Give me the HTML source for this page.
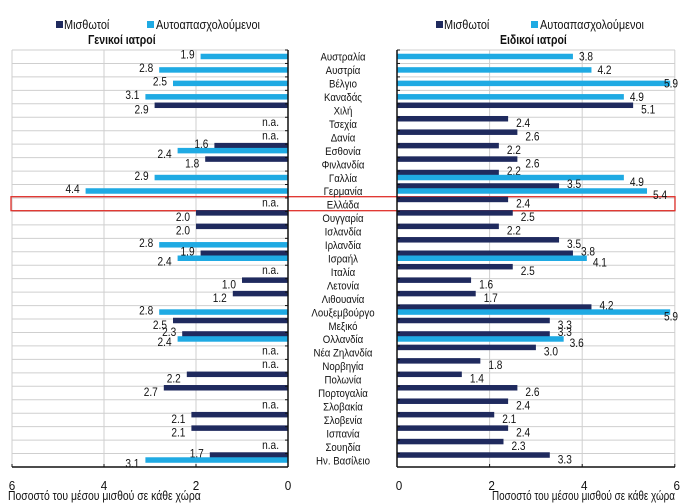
<!DOCTYPE html>
<html><head><meta charset="utf-8">
<style>
html,body{margin:0;padding:0;background:#fff;}
svg{display:block;font-family:"Liberation Sans",sans-serif;}
</style></head>
<body>
<svg id="chart" width="692" height="504" viewBox="0 0 692 504" xmlns="http://www.w3.org/2000/svg"></svg>
<script>
const countries = ["Αυστραλία","Αυστρία","Βέλγιο","Καναδάς","Χιλή","Τσεχία","Δανία","Εσθονία","Φινλανδία","Γαλλία","Γερμανία","Ελλάδα","Ουγγαρία","Ισλανδία","Ιρλανδία","Ισραήλ","Ιταλία","Λετονία","Λιθουανία","Λουξεμβούργο","Μεξικό","Ολλανδία","Νέα Ζηλανδία","Νορβηγία","Πολωνία","Πορτογαλία","Σλοβακία","Σλοβενία","Ισπανία","Σουηδία","Ην. Βασίλειο"];
const gpEmployed = [null,null,null,null,2.9,null,null,1.6,1.8,null,null,null,2.0,2.0,null,1.9,null,1.0,1.2,null,2.5,2.3,null,null,2.2,2.7,null,2.1,2.1,null,1.7];
const gpSelf = [1.9,2.8,2.5,3.1,null,null,null,2.4,null,2.9,4.4,null,null,null,2.8,2.4,null,null,null,2.8,null,2.4,null,null,null,null,null,null,null,null,3.1];
const spEmployed = [null,null,null,null,5.1,2.4,2.6,2.2,2.6,2.2,3.5,2.4,2.5,2.2,3.5,3.8,2.5,1.6,1.7,4.2,3.3,3.3,3.0,1.8,1.4,2.6,2.4,2.1,2.4,2.3,3.3];
const spSelf = [3.8,4.2,5.9,4.9,null,null,null,null,null,4.9,5.4,null,null,null,null,4.1,null,null,null,5.9,null,3.6,null,null,null,null,null,null,null,null,null];
const xTicks = [0,2,4,6];
const highlight = "Ελλάδα";

const DARK="#1f2a5e", LIGHT="#1faae3", GRID="#cfcfcf";
const svg=document.getElementById('chart');
const NS="http://www.w3.org/2000/svg";
const top0=50, bot0=467, n=countries.length, band=(bot0-top0)/n;
const yC=i=>top0+band*(i+0.5);
const xL=v=>288-v*46;
const xR=v=>397+v*46.3;
function mk(tag,attrs,text){const e=document.createElementNS(NS,tag);for(const k in attrs)e.setAttribute(k,attrs[k]);if(text!==undefined)e.textContent=text;svg.appendChild(e);return e;}
// narrow text: scale horizontally about anchor point
function tx(x,y,size,anchor,text,sx,bold){
  const e=mk('text',{x:0,y:0,'font-size':size,'text-anchor':anchor||'start',fill:'#111',transform:`translate(${x},${y}) scale(${sx||0.84},1)`},text);
  if(bold)e.setAttribute('font-weight','bold');
  return e;
}

for(let i=0;i<=n;i++){
  const y=top0+band*i;
  let g=mk('line',{x1:12,x2:288,y1:y,y2:y,stroke:GRID,'stroke-width':1});
  
  
  g=mk('line',{x1:397,x2:675,y1:y,y2:y,stroke:GRID,'stroke-width':1});
  
  
}
xTicks.forEach(t=>{
  let g=mk('line',{x1:xL(t),x2:xL(t),y1:top0,y2:bot0,stroke:GRID});
  
  
  g=mk('line',{x1:xR(t),x2:xR(t),y1:top0,y2:bot0,stroke:GRID});
  
  
  let tl=tx(xL(t),490,13,'middle',String(t),0.9);
  
  
  tl=tx(xR(t)+2,490,13,'middle',String(t),0.9);
  
  
});

const hi=countries.indexOf(highlight);
let box=mk('rect',{x:11,y:yC(hi)-8,width:664,height:14,fill:'none',stroke:'#e0312b','stroke-width':1.3});



function fmt(v){return v.toFixed(1);}
countries.forEach((c,i)=>{
  const cy=yC(i);
  let t=tx(343,cy+4,11.5,'middle',c,0.84);
  
  
  const d=gpEmployed[i], l=gpSelf[i];
  const both=d!=null&&l!=null;
  if(d!=null){
    let r=mk('rect',{x:xL(d),y:cy-8,width:xL(0)-xL(d),height:5.5,fill:DARK});
    
    
    let v=tx(xL(d)-6,both?cy-3:cy+3,11.5,'end',fmt(d),0.88);
    
    
  }
  if(l!=null){
    let r=mk('rect',{x:xL(l),y:cy-3,width:xL(0)-xL(l),height:5.5,fill:LIGHT});
    
    
    let v=tx(xL(l)-6,both?cy+7:cy+2,11.5,'end',fmt(l),0.88);
    
    
  }
  if(d==null&&l==null){
    let v=tx(279,cy+2,11.5,'end','n.a.',0.88);
    
    
  }
  const sd=spEmployed[i], sl=spSelf[i];
  const sboth=sd!=null&&sl!=null;
  if(sd!=null){
    let r=mk('rect',{x:xR(0),y:cy-8,width:xR(sd)-xR(0),height:5.5,fill:DARK});
    
    
    let v=tx(xR(sd)+8,sboth?cy-3:cy+3,11.5,'start',fmt(sd),0.88);
    
    
  }
  if(sl!=null){
    let r=mk('rect',{x:xR(0),y:cy-3,width:xR(sl)-xR(0),height:5.5,fill:LIGHT});
    
    
    let lx=Math.min(xR(sl)+6,664);
    let v=tx(lx,sboth?cy+8:cy+4,11.5,'start',fmt(sl),0.88);
    
    
  }
});

[[288,top0,288,bot0,'left-value-axis'],[12,bot0,288,bot0,'left-x-axis'],[397,top0,397,bot0,'right-value-axis'],[397,bot0,675,bot0,'right-x-axis']].forEach(a=>{
  let e=mk('line',{x1:a[0],y1:a[1],x2:a[2],y2:a[3],stroke:'#111','stroke-width':1.5});
  
  
});
for(let i=0;i<=n;i++){
  const y=top0+band*i;
  let e=mk('line',{x1:285,x2:288,y1:y,y2:y,stroke:'#111'});
  
  
  e=mk('line',{x1:397,x2:400,y1:y,y2:y,stroke:'#111'});
  
  
}
xTicks.forEach(t=>{
  let e=mk('line',{x1:xL(t),x2:xL(t),y1:bot0-3,y2:bot0,stroke:'#111'});
  
  
  e=mk('line',{x1:xR(t),x2:xR(t),y1:bot0-3,y2:bot0,stroke:'#111'});
  
  
});

let e;
e=mk('rect',{x:56,y:21,width:7,height:7,fill:DARK});
e=tx(64,29,13,'start','Μισθωτοί',0.84);
e=mk('rect',{x:147,y:21,width:7,height:7,fill:LIGHT});
e=tx(156,29,13,'start','Αυτοαπασχολούμενοι',0.84);
e=tx(88,44,12.5,'start','Γενικοί ιατροί',0.84,true);
e=mk('rect',{x:436,y:21,width:7,height:7,fill:DARK});
e=tx(444,29,13,'start','Μισθωτοί',0.84);
e=mk('rect',{x:531,y:21,width:7,height:7,fill:LIGHT});
e=tx(540,29,13,'start','Αυτοαπασχολούμενοι',0.84);
e=tx(500,44,12.5,'start','Ειδικοί ιατροί',0.84,true);
e=tx(8,500,13,'start','Ποσοστό του μέσου μισθού σε κάθε χώρα',0.8);
e=tx(492,500,13,'start','Ποσοστό του μέσου μισθού σε κάθε χώρα',0.76);
</script>
</body></html>
